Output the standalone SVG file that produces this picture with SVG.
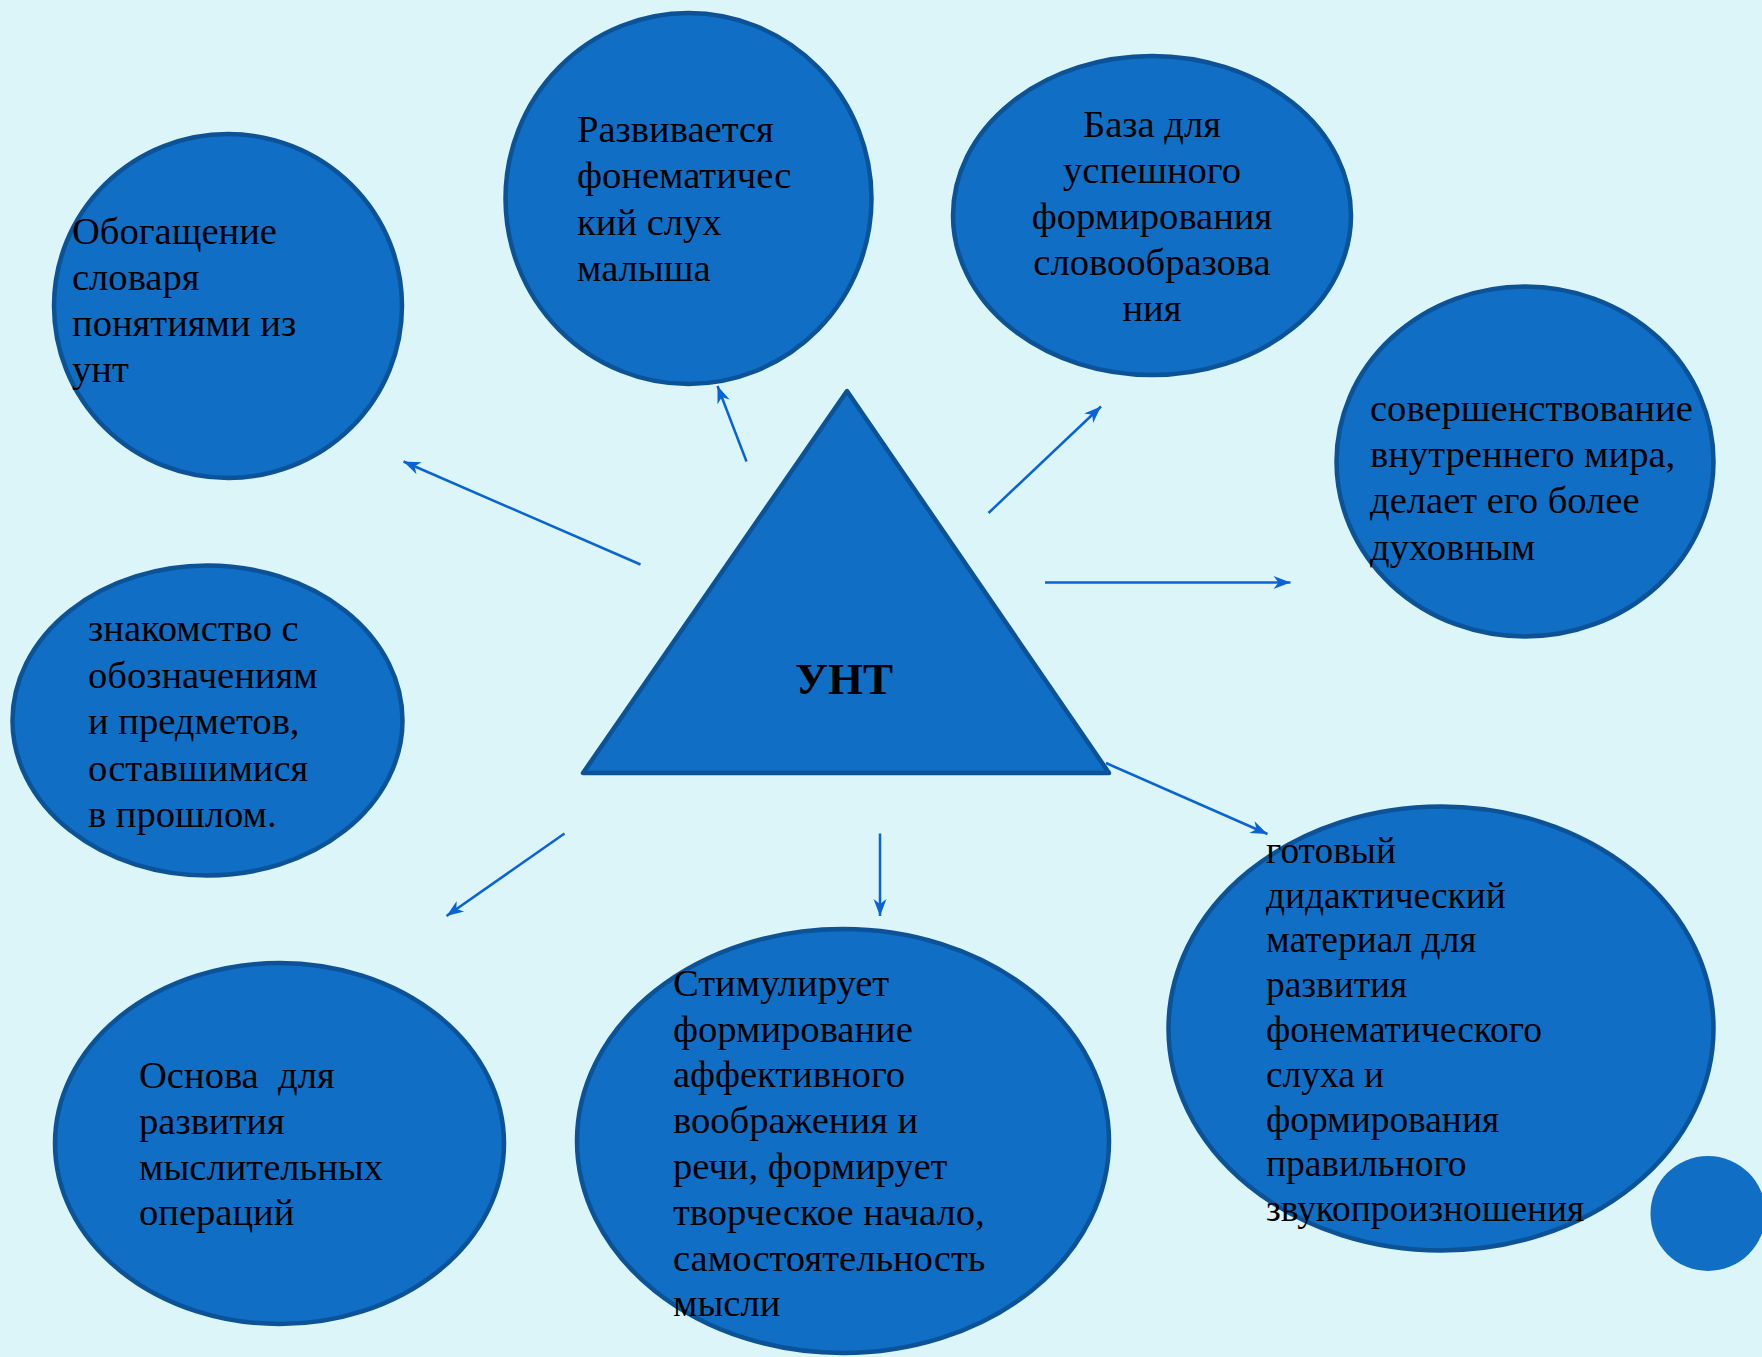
<svg xmlns="http://www.w3.org/2000/svg" width="1762" height="1357" viewBox="0 0 1762 1357">
<defs>
<style>
.node{fill:#106ec5;stroke:#0c5296;stroke-width:4.5}
.t{font-family:"Liberation Serif","Times New Roman",serif;font-size:38.6px;fill:#000;white-space:pre}
.s{font-size:37.4px}
.c{text-anchor:middle}
.conn line{stroke:#0a63d6;stroke-width:2.5;fill:none;marker-end:url(#ah)}
</style>
<marker id="ah" markerUnits="userSpaceOnUse" viewBox="-18 -8 20 16" refX="0" refY="0" markerWidth="20" markerHeight="16" orient="auto" overflow="visible">
<path d="M0,0 L-17,-6.5 L-12,0 L-17,6.5 Z" fill="#0a63d6"/>
</marker>
</defs>
<rect width="1762" height="1357" fill="#dcf5f9"/>

<g id="node-obogashchenie">
<ellipse class="node" cx="228" cy="306" rx="174" ry="172"/>
<text class="t"><tspan x="72" y="244">Обогащение</tspan><tspan x="72" y="290">словаря</tspan><tspan x="72" y="336">понятиями из</tspan><tspan x="72" y="382">унт</tspan></text>
</g>

<g id="node-razvivaetsya">
<ellipse class="node" cx="688.5" cy="198.5" rx="183" ry="185.5"/>
<text class="t"><tspan x="577" y="142">Развивается</tspan><tspan x="577" y="188">фонематичес</tspan><tspan x="577" y="235">кий слух</tspan><tspan x="577" y="281">малыша</tspan></text>
</g>

<g id="node-baza">
<ellipse class="node" cx="1152" cy="215.5" rx="199" ry="159.5"/>
<text class="t c"><tspan x="1152" y="137">База для</tspan><tspan x="1152" y="183">успешного</tspan><tspan x="1152" y="229">формирования</tspan><tspan x="1152" y="275">словообразова</tspan><tspan x="1152" y="321">ния</tspan></text>
</g>

<g id="node-sovershenstvovanie">
<ellipse class="node" cx="1525" cy="461.5" rx="188.5" ry="175"/>
<text class="t"><tspan x="1370" y="421">совершенствование</tspan><tspan x="1370" y="467">внутреннего мира,</tspan><tspan x="1370" y="513">делает его более</tspan><tspan x="1370" y="560">духовным</tspan></text>
</g>

<g id="node-znakomstvo">
<ellipse class="node" cx="207.5" cy="720.5" rx="195" ry="155"/>
<text class="t"><tspan x="88" y="641">знакомство с</tspan><tspan x="88" y="687.5">обозначениям</tspan><tspan x="88" y="734">и предметов,</tspan><tspan x="88" y="780.5">оставшимися</tspan><tspan x="88" y="827">в прошлом.</tspan></text>
</g>

<g id="node-unt">
<path d="M847,391 L583,773 L1109,773 Z" fill="#106ec5" stroke="#0c5296" stroke-width="4.5" stroke-linejoin="round"/>
<text x="844" y="694" class="t c" style="font-size:45px;font-weight:bold">УНТ</text>
</g>

<g id="node-osnova">
<ellipse class="node" cx="279.5" cy="1143.5" rx="224.5" ry="180.5"/>
<text class="t" xml:space="preserve"><tspan x="139" y="1088">Основа  для</tspan><tspan x="139" y="1134">развития</tspan><tspan x="139" y="1180">мыслительных</tspan><tspan x="139" y="1225">операций</tspan></text>
</g>

<g id="node-stimuliruet">
<ellipse class="node" cx="843" cy="1141" rx="266" ry="212"/>
<text class="t"><tspan x="673" y="996">Стимулирует</tspan><tspan x="673" y="1042">формирование</tspan><tspan x="673" y="1087">аффективного</tspan><tspan x="673" y="1133">воображения и</tspan><tspan x="673" y="1179">речи, формирует</tspan><tspan x="673" y="1225">творческое начало,</tspan><tspan x="673" y="1271">самостоятельность</tspan><tspan x="673" y="1316">мысли</tspan></text>
</g>

<g id="node-gotovyi">
<ellipse class="node" cx="1441" cy="1028.5" rx="272.5" ry="222"/>
<text class="t s"><tspan x="1266" y="863">готовый</tspan><tspan x="1266" y="907.5">дидактический</tspan><tspan x="1266" y="952">материал для</tspan><tspan x="1266" y="997">развития</tspan><tspan x="1266" y="1042">фонематического</tspan><tspan x="1266" y="1086.5">слуха и</tspan><tspan x="1266" y="1131.5">формирования</tspan><tspan x="1266" y="1176">правильного</tspan><tspan x="1266" y="1221">звукопроизношения</tspan></text>
</g>

<g id="decor-circle">
<circle cx="1708" cy="1213.5" r="57.5" fill="#106ec5"/>
</g>

<g id="connectors" class="conn">
<line x1="640.5" y1="564.5" x2="403.5" y2="461.5"/>
<line x1="746.5" y1="461.5" x2="717.5" y2="386"/>
<line x1="988.5" y1="513" x2="1101" y2="406.5"/>
<line x1="1045" y1="582.5" x2="1290.5" y2="582.5"/>
<line x1="1106" y1="763" x2="1267.5" y2="834"/>
<line x1="564.5" y1="833.5" x2="446.5" y2="916"/>
<line x1="880" y1="833.5" x2="880" y2="916"/>
</g>
</svg>
